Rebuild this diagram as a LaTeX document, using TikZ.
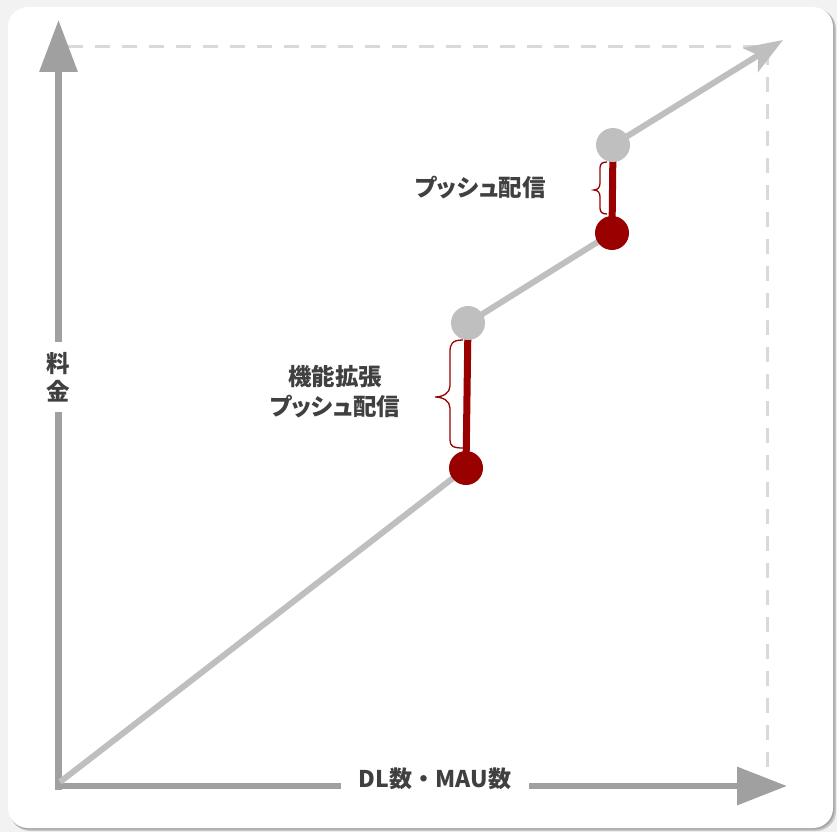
\documentclass[tikz,border=0pt]{standalone}
\usepackage{fontspec}
\setmainfont{Noto Sans CJK JP}[RawFeature=+palt]
\newfontfamily\plainjp{Noto Sans CJK JP}
\usetikzlibrary{arrows.meta}
\definecolor{bgc}{HTML}{F2F2F2}
\definecolor{axisc}{HTML}{A0A0A0}
\definecolor{diagc}{HTML}{BFBFBF}
\definecolor{dashc}{HTML}{D9D9D9}
\definecolor{darkredc}{HTML}{990000}
\definecolor{txtc}{HTML}{404040}
\pgfdeclarelayer{backl}
\pgfdeclarelayer{midl}
\pgfsetlayers{backl,midl,main}
\begin{document}
\begin{tikzpicture}[x=1pt,y=-1pt,
  axisline/.style={draw=axisc, line width=6.5pt},
  diagline/.style={draw=diagc, line width=6pt},
  guide/.style={draw=dashc, line width=3pt, dash pattern=on 15pt off 12pt},
  graydot/.style={circle, fill=diagc, minimum size=34pt, inner sep=0pt},
  reddot/.style={circle, fill=darkredc, minimum size=34pt, inner sep=0pt},
  redbar/.style={draw=darkredc, line width=7pt},
  bracecurve/.style={draw=darkredc, line width=1.3pt},
  lbl/.style={text=txtc, font=\fontsize{23.5}{30}\selectfont\bfseries, align=center, inner sep=0pt},
]
\useasboundingbox (0,0) rectangle (837,832);
\begin{pgfonlayer}{backl}
\fill[bgc] (0,0) rectangle (837,832);
\fill[black!22, rounded corners=20pt] (10,9) rectangle (836,831);
\fill[black!35, rounded corners=20pt] (9,8) rectangle (834.5,829.5);
\fill[white, rounded corners=20pt] (8,7) rectangle (833,828);
\end{pgfonlayer}

% coordinates
\coordinate (O) at (58.5,786);
\coordinate (Ytip) at (58.5,20);
\coordinate (Xtip) at (787,786);
\coordinate (D0) at (60,782);
\coordinate (Dtip) at (783,40);
\coordinate (TL) at (68,47);
\coordinate (TR) at (767,47);
\coordinate (BR) at (767,768);

% labels
\node[lbl, inner ysep=10pt, font=\fontsize{23.5}{28}\selectfont\bfseries] (ylab) at (58.5,377) {料\\金};
\node[lbl, inner xsep=18pt, font=\fontsize{23}{28}\plainjp\bfseries] (xlab) at (435,779) {DL数・MAU数};
\node[lbl] (push) at (480.5,188) {プッシュ配信};
\node[lbl] (ext) at (335,392) {機能拡張\\プッシュ配信};

% dots
\node[graydot] (g1) at (468,323) {};
\node[reddot] (r1) at (466,468) {};
\node[graydot] (g2) at (613,145) {};
\node[reddot] (r2) at (612,233) {};

\begin{pgfonlayer}{midl}
% guides
\draw[guide] (TL) -- (TR) -- (BR);
% axes
\draw[axisline] ([xshift=-3.25pt]O) -- (xlab.west |- O);
\draw[axisline, -{Triangle[length=50pt, width=37pt]}] (xlab.east |- O) -- (Xtip);
\draw[axisline] ([yshift=-3.5pt]O) -- (ylab.south);
\draw[axisline, -{Triangle[length=52pt, width=37pt]}] (ylab.north) -- (Ytip);
% diagonal
\draw[diagline] (D0) -- (r1.center);
\draw[diagline] (g1.center) -- (r2.center);
\draw[diagline, -{Stealth[length=38pt, width=28pt, inset=9pt]}] (g2.center) -- (Dtip);
% red bars
\draw[redbar] (g1.center) -- (r1.center);
\draw[redbar] (g2.center) -- (r2.center);
\end{pgfonlayer}

% braces
\draw[bracecurve] (463,340) .. controls (452,340) and (450,344) .. (450,352) -- (450,386)
  .. controls (450,393) and (443,397) .. (435,397)
  .. controls (443,397) and (450,401) .. (450,408) -- (450,440)
  .. controls (450,446) and (453,448) .. (463,448);
\draw[bracecurve] (607,162) .. controls (602,162) and (600,164) .. (600,168) -- (600,183)
  .. controls (600,187) and (598,190) .. (594,190)
  .. controls (598,190) and (600,193) .. (600,197) -- (600,208)
  .. controls (600,212) and (602,214) .. (607,214);
\end{tikzpicture}
\end{document}
